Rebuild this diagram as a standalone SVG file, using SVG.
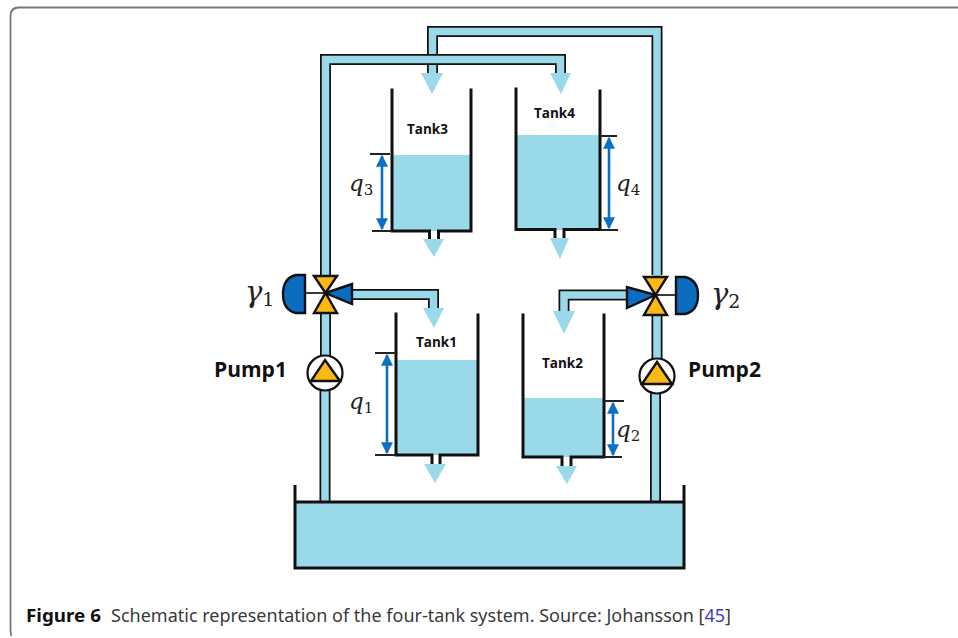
<svg xmlns="http://www.w3.org/2000/svg" width="958" height="638" viewBox="0 0 958 638">
<style>
.po{fill:none;stroke:#111;stroke-width:11;stroke-linejoin:miter}
.pi{fill:none;stroke:#9ad9ea;stroke-width:7.5;stroke-linejoin:miter}
.hd{fill:#9ad9ea}
.w{fill:#9ad9ea}
.k{fill:none;stroke:#111;stroke-width:3;stroke-linecap:square}
.t{fill:none;stroke:#222;stroke-width:1.8}
.lv{fill:none;stroke:#0b70c4;stroke-width:2.6;marker-start:url(#a);marker-end:url(#a)}
.y{fill:#fdb913;stroke:#111;stroke-width:2.4;stroke-linejoin:miter}
.b{fill:#0b6cc0;stroke:#111;stroke-width:2.4}
.tl{font-family:"Open Sans","Noto Sans",sans-serif;font-weight:700;font-size:13.5px;fill:#111}
.pl{font-family:"Open Sans","Noto Sans",sans-serif;font-weight:700;font-size:21px;fill:#111}
.m{font-family:"DejaVu Serif","Liberation Serif",serif;font-style:italic;font-size:23px;fill:#222}
.s{font-size:15px;font-style:normal}
.g{font-size:29px}
.gs{font-size:19px;font-style:normal}
.c{font-family:"Noto Sans","Open Sans",sans-serif;font-size:18.500px;fill:#3a3a3a}
</style>
<defs>
<marker id="a" viewBox="0 0 10 10" refX="9" refY="5" markerWidth="4.600" markerHeight="4.600" orient="auto-start-reverse" markerUnits="strokeWidth"><path d="M0 0L10 5L0 10Z" fill="#0b70c4"/></marker>
</defs>
<path id="frame" d="M958 7.500H19Q10.500 7.500 10.500 16V628Q10.500 634 11.500 636" fill="none" stroke="#777" stroke-width="1.800"/>

<g id="connectors">
<path class="po" d="M432.500 73V31.500H657V275"/><path class="pi" d="M432.500 73V31.500H657V277"/>
<path class="po" d="M325.500 276V59.500H560.500V73"/><path class="pi" d="M325.500 278V59.500H560.500V73"/>
<path class="po" d="M325.500 312V356"/><path class="pi" d="M325.500 312V358"/>
<path class="po" d="M325 388V502"/><path class="pi" d="M325 388V502"/>
<path class="po" d="M657 314V360"/><path class="pi" d="M657 314V362"/>
<path class="po" d="M655.500 390V502"/><path class="pi" d="M655.500 390V502"/>
<path class="po" d="M350 294.500H433.500V308"/><path class="pi" d="M348 294.500H433.500V308"/>
<path class="po" d="M630 295H564V311"/><path class="pi" d="M632 295H564V311"/>
<path class="hd" d="M421 73H443L432 94Z"/>
<path class="hd" d="M550 73H571L561 94Z"/>
<path class="hd" d="M423 308H444L434 328Z"/>
<path class="hd" d="M553 311H575L564 334Z"/>
</g>

<g id="tank3">
<rect class="w" x="392" y="155" width="79" height="76"/>
<path class="k" d="M392 90V231H429.500V239M438.500 239V231H471V90"/>
<path class="hd" d="M423 239H444L434 257Z"/>
<path class="t" d="M370 154H390M372 231H392"/>
<path class="lv" d="M382 156V229"/>
<text class="tl" x="407" y="134">Tank3</text>
<text class="m" x="349" y="191">q<tspan class="s" dy="4">3</tspan></text>
</g>
<g id="tank4">
<rect class="w" x="516" y="135" width="84" height="95"/>
<path class="k" d="M516 89V229.500H555V238M564 238V229.500H600V91"/>
<path class="hd" d="M550 238H569L560 259Z"/>
<path class="t" d="M600 136H617M600 230H618"/>
<path class="lv" d="M609 138V228"/>
<text class="tl" x="534" y="118">Tank4</text>
<text class="m" x="616" y="191">q<tspan class="s" dy="4">4</tspan></text>
</g>
<g id="tank1">
<rect class="w" x="396" y="360" width="82" height="95"/>
<path class="k" d="M396 314V455H432V464M440 464V455H478V315"/>
<path class="hd" d="M424 464H446L435 483Z"/>
<path class="t" d="M375 353H396M375 455H396"/>
<path class="lv" d="M387 355V453"/>
<text class="tl" x="416" y="347">Tank1</text>
<text class="m" x="349" y="409">q<tspan class="s" dy="4">1</tspan></text>
</g>
<g id="tank2">
<rect class="w" x="523" y="398" width="81" height="59"/>
<path class="k" d="M523 315V457H562V466M571 466V457H604V315"/>
<path class="hd" d="M556 466H577L567 484Z"/>
<path class="t" d="M604 401H624M604 457H622"/>
<path class="lv" d="M613 403V455"/>
<text class="tl" x="542" y="368">Tank2</text>
<text class="m" x="616" y="437">q<tspan class="s" dy="4">2</tspan></text>
</g>

<g id="valve1">
<path class="t" d="M306 293H325"/>
<path class="y" d="M314 276H337L325.500 293Z"/>
<path class="y" d="M314 313H337L325.500 293Z"/>
<path class="b" d="M325.500 293L352 284V304Z"/>
<path class="b" d="M305 275H296Q283 278 283 294Q283 310 296 313H305Z"/>
<text class="m g" x="245" y="302">γ<tspan class="gs" dy="4">1</tspan></text>
</g>
<g id="valve2">
<path class="t" d="M655 295H676"/>
<path class="y" d="M644 277H667L655.500 295Z"/>
<path class="y" d="M644 315H667L655.500 295Z"/>
<path class="b" d="M655.500 295L627 287V308Z"/>
<path class="b" d="M676 277H685Q698 280 698 295Q698 311 685 314H676Z"/>
<text class="m g" x="711" y="304">γ<tspan class="gs" dy="4">2</tspan></text>
</g>
<g id="pump1">
<circle cx="325" cy="373" r="17.500" fill="#fff" stroke="#111" stroke-width="2.200"/>
<path class="y" d="M325 360L340 381H311Z"/>
<text class="pl" x="214" y="377">Pump1</text>
</g>
<g id="pump2">
<circle cx="657" cy="376" r="17.500" fill="#fff" stroke="#111" stroke-width="2.200"/>
<path class="y" d="M657 362L672 384H642Z"/>
<text class="pl" x="688" y="377">Pump2</text>
</g>
<g id="reservoir">
<rect class="w" x="295" y="502" width="389" height="66"/>
<path d="M295 485V568H684V485M295 502H684" fill="none" stroke="#111" stroke-width="3"/>
</g>
<g id="caption">
<text class="c" x="26" y="622" style="font-weight:700;fill:#111" textLength="75" lengthAdjust="spacingAndGlyphs">Figure 6</text>
<text class="c" x="111" y="622" textLength="620" lengthAdjust="spacingAndGlyphs">Schematic representation of the four-tank system. Source: Johansson [<tspan fill="#3a3ac8">45</tspan>]</text>
</g>
</svg>
